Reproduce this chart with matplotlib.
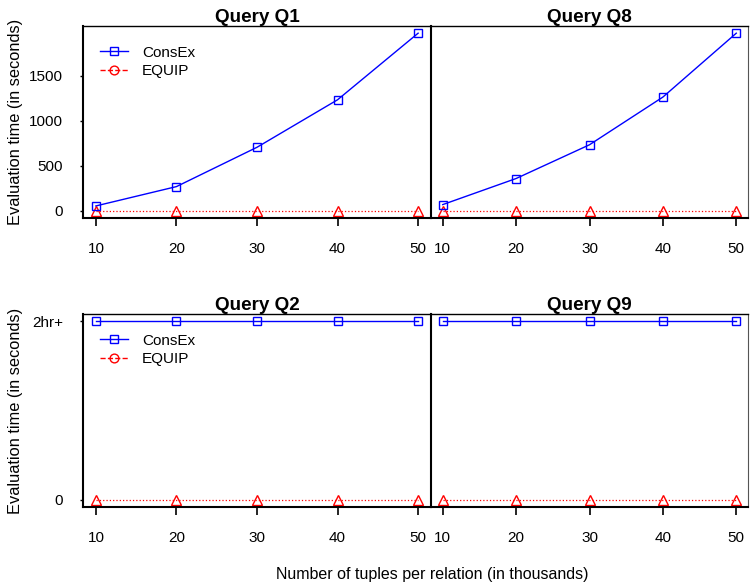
import numpy as np
import matplotlib
matplotlib.use('Agg')
import matplotlib.pyplot as plt
from matplotlib.lines import Line2D

plt.rcParams['font.family'] = ['Liberation Sans', 'DejaVu Sans']

tuples = [10, 20, 30, 40, 50]
consex_q1 = [55, 270, 707, 1235, 1975]
consex_q8 = [70, 360, 735, 1265, 1975]
equip_q1 = [0, 0, 0, 0, 0]
equip_q8 = [0, 0, 0, 0, 0]
# Q2 / Q9 : ConsEx never finished (plotted at 2hr cap)
timeout = 7200
consex_q2 = [timeout] * 5
consex_q9 = [timeout] * 5
equip_q2 = [0, 0, 0, 0, 0]
equip_q9 = [0, 0, 0, 0, 0]

titles = ['Query Q1', 'Query Q8', 'Query Q2', 'Query Q9']
blue = '#0000FF'
red = '#FF0000'

fig = plt.figure(figsize=(7.52, 5.82), dpi=100)
W, H = 752., 582.
def box(x0, y0, x1, y1):
	return [x0/W, 1-y1/H, (x1-x0)/W, (y1-y0)/H]

ax_q1 = fig.add_axes(box(83, 26, 431, 218))
ax_q8 = fig.add_axes(box(431, 26, 748, 218))
ax_q2 = fig.add_axes(box(83, 314, 431, 507))
ax_q9 = fig.add_axes(box(431, 314, 748, 507))

panels = [(ax_q1, consex_q1, equip_q1), (ax_q8, consex_q8, equip_q8),
		(ax_q2, consex_q2, equip_q2), (ax_q9, consex_q9, equip_q9)]

for i, (ax, cons, equ) in enumerate(panels):
	ax.plot(tuples, equ, ls=':', color=red, lw=0.9, marker='^', ms=7.5,
			mfc='none', mec=red, mew=1.0)
	ax.plot(tuples, cons, ls='-', color=blue, lw=1.0, marker='s', ms=6.3,
			mfc='none', mec=blue, mew=1.0)
	ax.set_xlim(8.4, 51.6)
	ax.set_xticks(tuples)
	ax.set_title(titles[i], fontsize=13.6, fontweight='bold', pad=2)
	# tick length / pad are in points (1pt = 1.39px at 100 dpi)
	ax.tick_params(axis='x', direction='out', length=6, width=1.2,
				labelsize=11, pad=11)
	ax.tick_params(axis='y', direction='out', length=2.2, width=1.0,
				labelsize=11, pad=12.2)
	ax.spines['bottom'].set_linewidth(1.5)
	ax.spines['top'].set_linewidth(1.0)
	if i % 2 == 0:
		ax.spines['left'].set_linewidth(1.5)
		ax.spines['right'].set_visible(False)
	else:
		ax.spines['left'].set_linewidth(1.5)
		ax.spines['right'].set_linewidth(0.8)
		ax.spines['right'].set_color('#555555')
		ax.tick_params(axis='y', left=False, labelleft=False)

for ax in (ax_q1, ax_q8):
	ax.set_ylim(-79, 2055)
	ax.set_yticks([0, 500, 1000, 1500])
for ax in (ax_q2, ax_q9):
	ax.set_ylim(-288, timeout + 288)
	ax.set_yticks([0, timeout])
ax_q2.set_yticklabels(['0', '2hr+'])

for ax in (ax_q1, ax_q2):
	ax.set_ylabel('Evaluation time (in seconds)', fontsize=11.8)
	ax.yaxis.set_label_coords(-(83 - 23) / 348., 0.5)

handles = [Line2D([], [], color=blue, ls='-', lw=1.0, marker='s', ms=6.3,
				mfc='none', mec=blue),
		Line2D([], [], color=red, ls='--', lw=1.0, marker='o', ms=6.3,
				mfc='none', mec=red)]
for ax in (ax_q1, ax_q2):
	ax.legend(handles, ['ConsEx', 'EQUIP'], loc='upper left',
			bbox_to_anchor=(0.01, 0.97), frameon=False, fontsize=11,
			handlelength=1.85, handletextpad=0.9, labelspacing=0.3)

fig.text(432/W, 1-575/H, 'Number of tuples per relation (in thousands)',
		ha='center', va='center', fontsize=11.5)

fig.savefig('out.png', dpi=100)
